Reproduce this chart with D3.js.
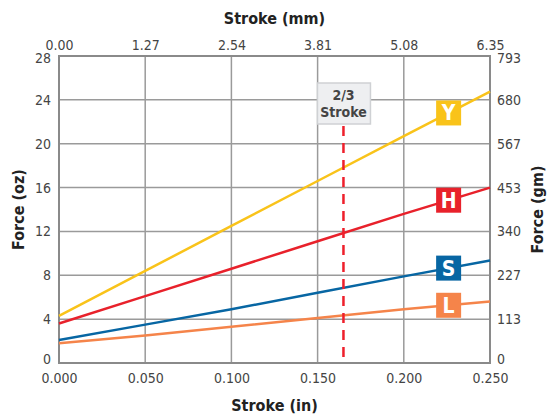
<!DOCTYPE html>
<html><head><meta charset="utf-8">
<script src="https://cdn.jsdelivr.net/npm/d3@7"></script>
<style>
html,body{margin:0;padding:0;background:#fff;}
text{font-family:"DejaVu Sans Condensed","DejaVu Sans",sans-serif;font-stretch:condensed;}
</style></head>
<body><svg id="c" width="548" height="418"></svg>
<script>
const strokeIn = [0, 0.05, 0.10, 0.15, 0.20, 0.25];
const inTickLabels = ["0.000","0.050","0.100","0.150","0.200","0.250"];
const mmTickLabels = ["0.00","1.27","2.54","3.81","5.08","6.35"];
const ozTicks = [0,4,8,12,16,20,24,28];
const gmTickLabels = ["0","113","227","340","453","567","680","793"];
const seriesNames = ["Y","H","S","L"];
const seriesColors = ["#f9c31a","#e8212b","#0766a3","#f5844a"];
const valuesY = [4.3, 8.4, 12.5, 16.6, 20.7, 24.75];
const valuesH = [3.6, 6.1, 8.6, 11.1, 13.6, 16.0];
const valuesS = [2.1, 3.5, 4.9, 6.4, 7.9, 9.35];
const valuesL = [1.8, 2.5, 3.3, 4.1, 4.9, 5.6];
const labelX = 0.226;
const markerStroke = 0.165;

(function(){
const allValues = [valuesY, valuesH, valuesS, valuesL];
const svg = d3.select("#c");
const L = 59, R = 490, T = 56, B = 363;
const x = d3.scaleLinear().domain([0,0.25]).range([L,R]);
const y = d3.scaleLinear().domain([0,28]).range([B,T]);
const gray = "#444";

// grid
const g = svg.append("g");
g.selectAll("line.v").data(strokeIn.slice(1,-1)).enter().append("line")
  .attr("x1",d=>x(d)).attr("x2",d=>x(d)).attr("y1",T).attr("y2",B)
  .attr("stroke","#9a9a9a").attr("stroke-width",1.5);
g.selectAll("line.h").data(ozTicks.slice(1,-1)).enter().append("line")
  .attr("x1",L).attr("x2",R).attr("y1",d=>y(d)).attr("y2",d=>y(d))
  .attr("stroke","#9a9a9a").attr("stroke-width",1.5);

// axes with d3 axis
const fs = "14px";
const axB = svg.append("g").attr("transform",`translate(0,${B})`)
  .call(d3.axisBottom(x).tickValues(strokeIn).tickFormat((d,i)=>inTickLabels[i]).tickSize(0).tickPadding(10));
const axT = svg.append("g").attr("transform",`translate(0,${T})`)
  .call(d3.axisTop(x).tickValues(strokeIn).tickFormat((d,i)=>mmTickLabels[i]).tickSize(0).tickPadding(6));
const axL = svg.append("g").attr("transform",`translate(${L},0)`)
  .call(d3.axisLeft(y).tickValues(ozTicks).tickFormat(d=>d).tickSize(0).tickPadding(8));
const axR = svg.append("g").attr("transform",`translate(${R},0)`)
  .call(d3.axisRight(y).tickValues(ozTicks).tickFormat((d,i)=>gmTickLabels[i]).tickSize(0).tickPadding(7));
[axB,axT,axL,axR].forEach(a=>{
  a.select(".domain").remove();
  a.selectAll("text").attr("font-size",fs).attr("fill",gray);
});
[axL,axR].forEach(a=>{
  a.selectAll(".tick").filter(d=>d===28).select("text").attr("dy","0.45em");
  a.selectAll(".tick").filter(d=>d===0).select("text").attr("dy","0.05em");
});

// border
svg.append("rect").attr("x",L).attr("y",T).attr("width",R-L).attr("height",B-T)
  .attr("fill","none").attr("stroke","#8a8a8a").attr("stroke-width",2);

// lines
const line = d3.line().x((d,i)=>x(strokeIn[i])).y(d=>y(d));
allValues.forEach((vals,k)=>{
  svg.append("path").datum(vals).attr("d",line).attr("fill","none")
    .attr("stroke",seriesColors[k]).attr("stroke-width",2.5);
});

// 2/3 stroke marker
const bx = x(markerStroke);
svg.append("line").attr("x1",bx).attr("x2",bx)
  .attr("y1",126).attr("y2",y(0)).attr("stroke","#ee1f2b").attr("stroke-width",2.5)
  .attr("stroke-dasharray","10,7");
svg.append("rect").attr("x",bx-26).attr("y",83).attr("width",53).attr("height",41)
  .attr("fill","#eeeff1").attr("stroke","#cfd1d4").attr("stroke-width",1.5);
svg.append("text").attr("x",bx).attr("y",100).attr("text-anchor","middle")
  .attr("font-size","14px").attr("font-weight","bold").attr("fill",gray).text("2/3");
svg.append("text").attr("x",bx).attr("y",117).attr("text-anchor","middle")
  .attr("font-size","14px").attr("font-weight","bold").attr("fill",gray).text("Stroke");

// badges
allValues.forEach((vals,k)=>{
  const i0 = 4, t = (labelX - strokeIn[i0])/(strokeIn[i0+1]-strokeIn[i0]);
  const v = vals[i0] + t*(vals[i0+1]-vals[i0]);
  const cx = x(labelX), cy = y(v);
  svg.append("rect").attr("x",cx-12.5).attr("y",cy-12.5).attr("width",25).attr("height",25)
    .attr("fill",seriesColors[k]);
  svg.append("text").attr("x",cx).attr("y",cy+7.5).attr("text-anchor","middle")
    .attr("font-size","21px").attr("font-weight","bold").attr("fill","#fff")
    .text(seriesNames[k]);
});

// titles
svg.append("text").attr("x",(L+R)/2).attr("y",24).attr("text-anchor","middle")
  .attr("font-size","16px").attr("font-weight","bold").attr("fill","#222").text("Stroke (mm)");
svg.append("text").attr("x",(L+R)/2).attr("y",411).attr("text-anchor","middle")
  .attr("font-size","16px").attr("font-weight","bold").attr("fill","#222").text("Stroke (in)");
svg.append("text").attr("transform",`translate(24,${(T+B)/2}) rotate(-90)`).attr("text-anchor","middle")
  .attr("font-size","16px").attr("font-weight","bold").attr("fill","#222").text("Force (oz)");
svg.append("text").attr("transform",`translate(543,${(T+B)/2}) rotate(-90)`).attr("text-anchor","middle")
  .attr("font-size","16px").attr("font-weight","bold").attr("fill","#222").text("Force (gm)");
})();
</script></body></html>
